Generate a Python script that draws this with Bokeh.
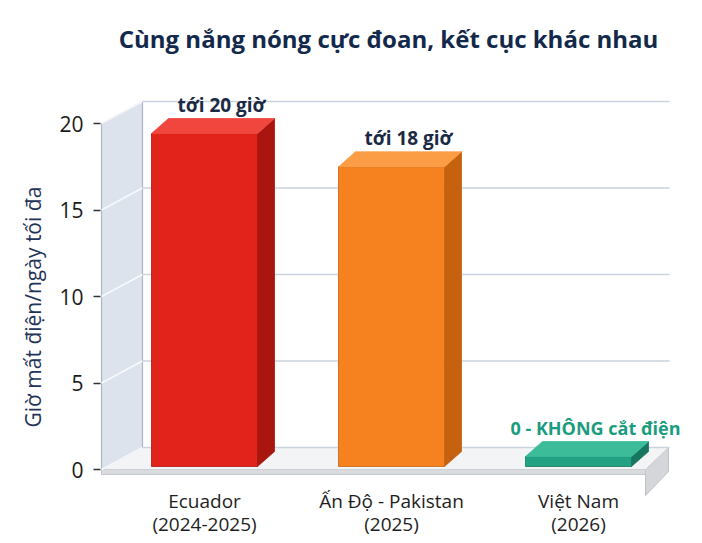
from bokeh.plotting import figure
from bokeh.models import Range1d, FixedTicker, Title
from bokeh.embed import file_html
from bokeh.resources import INLINE
from bokeh.core.properties import value

# ---------------- data ----------------
categories = ["Ecuador", "Ấn Độ - Pakistan", "Việt Nam"]
periods = ["(2024-2025)", "(2025)", "(2026)"]
hours = [20, 18, 0]
bar_labels = ["tới 20 giờ", "tới 18 giờ", "0 - KHÔNG cắt điện"]
y_ticks = [0, 5, 10, 15, 20]
title_text = "Cùng nắng nóng cực đoan, kết cục khác nhau"
y_title = "Giờ mất điện/ngày tối đa"

# ---------------- styles ----------------
front_colors = ["#e2231c", "#f5821f", "#22a283"]
side_colors = ["#a9150f", "#c6620f", "#16765f"]
top_colors = ["#f0463d", "#fa9d45", "#3cbc98"]
label_colors = ["#1b2a44", "#1b2a44", "#1a9c7e"]
label_sizes = ["19px", "19px", "18px"]
FONT = "Open Sans"

# ---------------- layout (screen px) ----------------
W, H = 702, 543
LEFT = 100
PX_PER_CAT = 187.0
PX_PER_UNIT = 17.3
X0_PX = 204
Y0_PX = 469

x_start = (LEFT - X0_PX) / PX_PER_CAT
x_end = (W - X0_PX) / PX_PER_CAT
y_start = -(H - Y0_PX) / PX_PER_UNIT
y_end = Y0_PX / PX_PER_UNIT


def px_x(px):
    return (px - X0_PX) / PX_PER_CAT


def px_y(py):
    return (Y0_PX - py) / PX_PER_UNIT


def dxp(px):
    return px / PX_PER_CAT


def dyp(px):
    return px / PX_PER_UNIT


p = figure(width=W, height=H, output_backend="svg", toolbar_location=None,
           x_range=Range1d(x_start, x_end), y_range=Range1d(y_start, y_end),
           x_axis_location=None, min_border_left=LEFT, min_border_right=0,
           min_border_top=0, min_border_bottom=0)
p.outline_line_color = None
p.grid.visible = False
p.background_fill_color = "white"
p.border_fill_color = "white"

# y axis
ax = p.yaxis[0]
ax.ticker = FixedTicker(ticks=y_ticks)
ax.axis_line_color = None
ax.major_tick_out = 7
ax.major_tick_in = 0
ax.major_tick_line_color = "#333333"
ax.major_tick_line_width = 1.5
ax.minor_tick_line_color = None
ax.major_label_standoff = 10
ax.major_label_text_font = FONT
ax.major_label_text_font_size = "21px"
ax.major_label_text_color = "#1a1a1a"

# y-axis title, placed beside the value range
p.add_layout(Title(text=y_title, align="left", offset=116, standoff=19,
                   text_font=FONT, text_font_size="21px", text_font_style="normal",
                   text_color="#1f3457"), "left")

# ---------------- 3D frame ----------------
WALL_DX, WALL_DY = 42, 22
wall_x0 = px_x(LEFT + 1)
wall_x1 = px_x(LEFT + WALL_DX)
back_x1 = px_x(669)
floor_fr = px_x(645)
floor_br = px_x(668)
top_v = max(y_ticks)
d_up = dyp(WALL_DY)

# floor side flange
p.patch([floor_fr, floor_br, floor_br, floor_fr],
        [0, d_up, d_up - dyp(24), -dyp(26)],
        fill_color="#d4d6d9", line_color="#bfc2c6", line_width=1)
# floor front strip
p.patch([wall_x0, floor_fr, floor_fr, wall_x0],
        [0, 0, -dyp(5), -dyp(5)],
        fill_color="#d9dbde", line_color="#c4c7cb", line_width=1)
# floor top surface
p.patch([wall_x0, floor_fr, floor_br, wall_x1],
        [0, 0, d_up, d_up],
        fill_color="#f3f4f6", line_color="#cdd1d6", line_width=1)

# back-wall gridlines
p.segment(x0=[wall_x1] * len(y_ticks), y0=[t + d_up for t in y_ticks],
          x1=[back_x1] * len(y_ticks), y1=[t + d_up for t in y_ticks],
          line_color="#cbd3de", line_width=1.6)

# left wall
p.patch([wall_x0, wall_x0, wall_x1, wall_x1],
        [0, top_v, top_v + d_up, d_up],
        fill_color="#dce3ec", line_color="#aab6c6", line_width=1.2)
p.segment(x0=[wall_x0] * len(y_ticks), y0=y_ticks,
          x1=[wall_x1] * len(y_ticks), y1=[t + d_up for t in y_ticks],
          line_color="#f7f9fc", line_width=1.6)

# ---------------- bars ----------------
HALF_W = dxp(53)
BAR_DX = dxp(17)
BAR_DY = dyp(15)
BASE = px_y(466)
SHRINK = 16.65 / PX_PER_UNIT
MIN_H = dyp(10)

fx, fy, sx, sy, tx, ty = [], [], [], [], [], []
tops = []
for i, v in enumerate(hours):
    top = BASE + max(v * SHRINK, MIN_H)
    tops.append(top)
    l, r = i - HALF_W, i + HALF_W
    fx.append([l, r, r, l]); fy.append([BASE, BASE, top, top])
    sx.append([r, r + BAR_DX, r + BAR_DX, r]); sy.append([BASE, BASE + BAR_DY, top + BAR_DY, top])
    tx.append([l, r, r + BAR_DX, l + BAR_DX]); ty.append([top, top, top + BAR_DY, top + BAR_DY])

p.patches(sx, sy, fill_color=side_colors, line_color=side_colors, line_width=0.8)
p.patches(fx, fy, fill_color=front_colors, line_color=side_colors, line_width=0.8)
p.patches(tx, ty, fill_color=top_colors, line_color=top_colors, line_width=0.8)

# value labels
p.text(x=[i + BAR_DX for i in range(len(hours))], y=[t + dyp(29) for t in tops],
       text=bar_labels, text_color=label_colors, text_font=value(FONT),
       text_font_style="bold", text_font_size=label_sizes,
       text_align="center", text_baseline="middle")

# category labels
idx = list(range(len(categories)))
p.text(x=idx, y=[px_y(500)] * len(idx), text=categories, text_color="#1e1e1e",
       text_font=value(FONT), text_font_size=value("19px"),
       text_align="center", text_baseline="middle")
p.text(x=idx, y=[px_y(523)] * len(idx), text=periods, text_color="#1e1e1e",
       text_font=value(FONT), text_font_size=value("19px"),
       text_align="center", text_baseline="middle")

# title
p.text(x=[px_x(388)], y=[px_y(38)], text=[title_text], text_color="#13294b",
       text_font=value(FONT), text_font_style="bold", text_font_size=value("24px"),
       text_align="center", text_baseline="middle")

open("out.html", "w").write(file_html(p, INLINE))
